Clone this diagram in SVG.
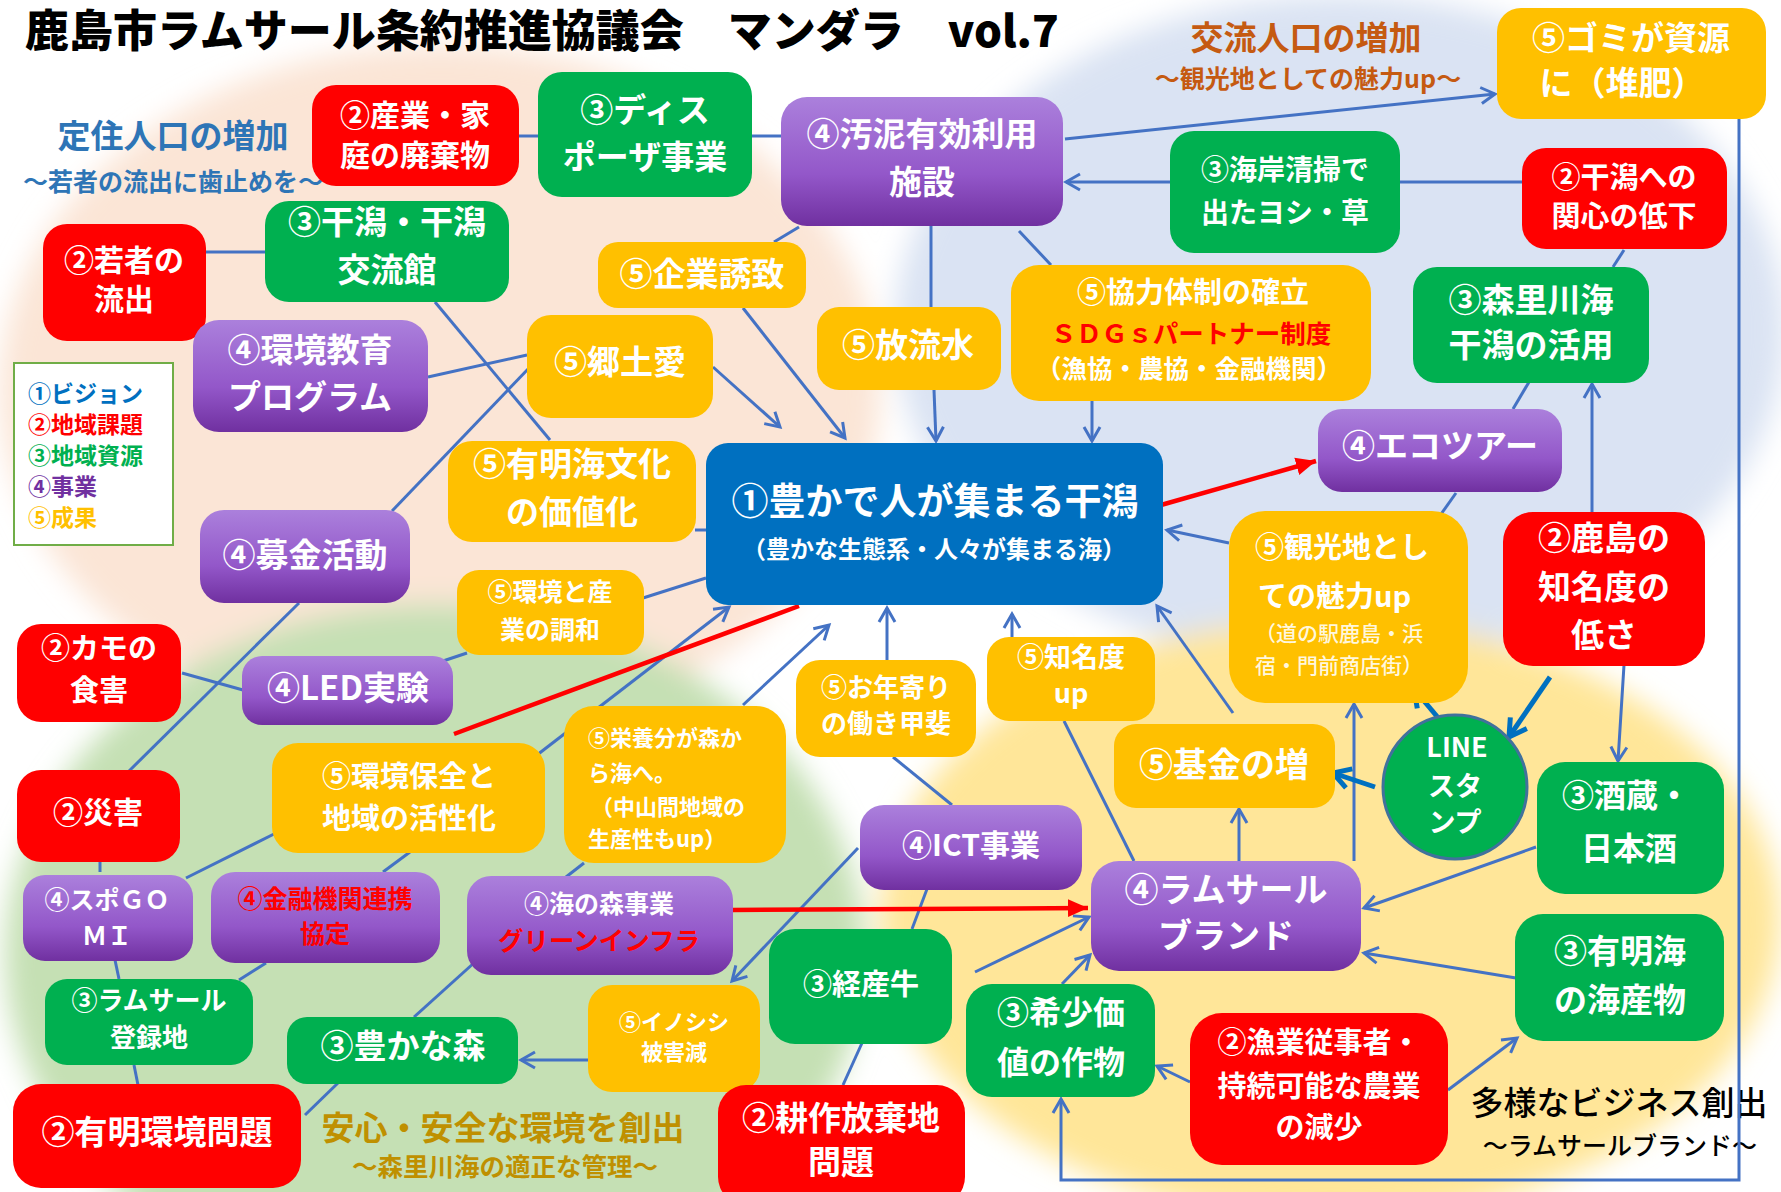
<svg xmlns="http://www.w3.org/2000/svg" width="1781" height="1192" viewBox="0 0 1781 1192">
<style>
.t{font-family:"Noto Sans CJK JP","Noto Sans",sans-serif;font-weight:700;fill:#fff;text-anchor:middle}
.lab{font-family:"Noto Sans CJK JP","Noto Sans",sans-serif;font-weight:700;text-anchor:middle}
.r{fill:#ff0000}.g{fill:#00b050}.y{fill:#ffc000}.p{fill:url(#pg)}.b{fill:#0070c0}
.rt{fill:#ff0000}
.c{stroke:#4472c4;stroke-width:3;fill:none}
.ca{stroke:#4472c4;stroke-width:3;fill:none;marker-end:url(#a)}
.cb{stroke:#0070c0;stroke-width:5;fill:none;marker-end:url(#ab)}
.cr{stroke:#ff0000;stroke-width:4.5;fill:none}
</style>
<defs>
<linearGradient id="pg" x1="0" y1="0" x2="0" y2="1">
<stop offset="0" stop-color="#ab80dc"/><stop offset="0.6" stop-color="#9357c9"/><stop offset="1" stop-color="#7030a0"/>
</linearGradient>
<filter id="blur" x="-30%" y="-30%" width="160%" height="160%"><feGaussianBlur stdDeviation="14"/></filter>
<marker id="a" markerUnits="userSpaceOnUse" viewBox="0 0 20 20" markerWidth="20" markerHeight="20" refX="17" refY="10" orient="auto"><path d="M3,2 L17,10 L3,18" fill="none" stroke="#4472c4" stroke-width="3"/></marker>
<marker id="ab" markerUnits="userSpaceOnUse" viewBox="0 0 26 26" markerWidth="26" markerHeight="26" refX="21" refY="13" orient="auto"><path d="M4,3 L21,13 L4,23" fill="none" stroke="#0070c0" stroke-width="5"/></marker>
<marker id="ar" markerUnits="userSpaceOnUse" viewBox="0 0 22 22" markerWidth="22" markerHeight="22" refX="20" refY="11" orient="auto"><path d="M0,2 L20,11 L0,20 z" fill="#ff0000"/></marker>
</defs>
<rect width="1781" height="1192" fill="#ffffff"/>
<g id="background" filter="url(#blur)">
<ellipse cx="440" cy="390" rx="440" ry="345" fill="#fbe5d6"/>
<ellipse cx="1340" cy="330" rx="445" ry="335" fill="#dae3f3"/>
<ellipse cx="435" cy="955" rx="430" ry="350" fill="#c5e0b4"/>
<ellipse cx="1330" cy="920" rx="450" ry="300" fill="#ffe699"/>
</g>
<text x="25" y="47" style="font-family:'Noto Sans CJK JP','Noto Sans',sans-serif;text-anchor:start;font-size:44px;font-weight:900;fill:#000">鹿島市ラムサール条約推進協議会　マンダラ　vol.7</text>
<g id="labels">
<text class="lab" x="173" y="148" style="font-size:33px;fill:#2e75b6">定住人口の増加</text>
<text class="lab" x="173" y="191" style="font-size:25px;fill:#2e75b6">～若者の流出に歯止めを～</text>
<text class="lab" x="1306" y="50" style="font-size:33px;fill:#c55a11">交流人口の増加</text>
<text class="lab" x="1308" y="88" style="font-size:25px;fill:#c55a11">～観光地としての魅力up～</text>
<text class="lab" x="503" y="1140" style="font-size:33px;fill:#bf9000">安心・安全な環境を創出</text>
<text class="lab" x="505" y="1176" style="font-size:25.5px;fill:#bf9000">～森里川海の適正な管理～</text>
<text class="lab" x="1619" y="1115" style="font-size:33px;font-weight:500;fill:#000">多様なビジネス創出</text>
<text class="lab" x="1620" y="1155" style="font-size:25px;font-weight:500;fill:#000">～ラムサールブランド～</text>
</g>
<g id="connectors">
<path class="c" d="M519,136 L538,136"/>
<path class="c" d="M752,136 L781,136"/>
<path class="c" d="M1522,182 L1399,182"/>
<path class="c" d="M1624,250 L1613,267"/>
<path class="c" d="M931,224 L931,307"/>
<path class="c" d="M1019,231 L1051,265"/>
<path class="c" d="M799,227 L774,242"/>
<path class="c" d="M435,302 L550,440"/>
<path class="c" d="M428,377 L527,355"/>
<path class="c" d="M204,252 L265,252"/>
<path class="c" d="M530,367 L392,511"/>
<path class="c" d="M299,603 L125,775"/>
<path class="c" d="M182,673 L243,690"/>
<path class="c" d="M440,662 L467,653"/>
<path class="c" d="M643,598 L706,578"/>
<path class="c" d="M695,530 L706,530"/>
<path class="c" d="M1456,493 L1439,517"/>
<path class="c" d="M1529,382 L1513,409"/>
<path class="c" d="M1134,861 L1064,721"/>
<path class="c" d="M893,757 L952,805"/>
<path class="c" d="M276,833 L186,878"/>
<path class="c" d="M100,861 L100,872"/>
<path class="c" d="M410,852 L383,872"/>
<path class="c" d="M115,960 L119,979"/>
<path class="c" d="M266,963 L239,980"/>
<path class="c" d="M134,1065 L138,1085"/>
<path class="c" d="M339,1082 L305,1115"/>
<path class="c" d="M475,962 L414,1017"/>
<path class="c" d="M584,863 L566,877"/>
<path class="c" d="M927,889 L912,929"/>
<path class="c" d="M862,1043 L843,1085"/>
<path class="ca" d="M1065,139 L1495,94"/>
<path class="ca" d="M1170,182 L1066,182"/>
<path class="ca" d="M1739,119 L1739,1180 L1061,1180 L1061,1099"/>
<path class="ca" d="M934,390 L936,441"/>
<path class="ca" d="M1092,401 L1092,441"/>
<path class="ca" d="M743,308 L845,438"/>
<path class="ca" d="M713,367 L780,427"/>
<path class="ca" d="M1592,513 L1592,384"/>
<path class="ca" d="M1229,543 L1167,530"/>
<path class="ca" d="M1624,665 L1618,761"/>
<path class="ca" d="M1354,861 L1354,704"/>
<path class="ca" d="M1239,861 L1239,809"/>
<path class="ca" d="M1233,713 L1157,606"/>
<path class="ca" d="M1012,638 L1012,614"/>
<path class="ca" d="M887,662 L887,608"/>
<path class="ca" d="M743,705 L829,625"/>
<path class="ca" d="M537,755 L729,607"/>
<path class="ca" d="M588,1060 L521,1060"/>
<path class="ca" d="M858,848 L732,981"/>
<path class="ca" d="M975,972 L1089,917"/>
<path class="ca" d="M1062,984 L1090,955"/>
<path class="ca" d="M1536,847 L1364,908"/>
<path class="ca" d="M1516,978 L1364,953"/>
<path class="ca" d="M1448,1090 L1517,1038"/>
<path class="ca" d="M1190,1082 L1157,1066"/>
<path class="cb" d="M1550,677 L1509,737"/>
<path class="cb" d="M1440,720 L1414,689"/>
<path class="cb" d="M1375,787 L1333,773"/>
<path class="cr" d="M454,734 L799,606"/>
<path class="cr" d="M1161,505 L1316,461" marker-end="url(#ar)"/>
<path class="cr" d="M732,910 L1088,908" marker-end="url(#ar)"/>
</g>
<g id="legend">
<rect x="14" y="363" width="159" height="182" fill="#ffffff" stroke="#70ad47" stroke-width="2"/>
<text x="28" y="402" style="font-family:'Noto Sans CJK JP',sans-serif;font-weight:700;text-anchor:start;font-size:23px;fill:#0070c0">①ビジョン</text>
<text x="28" y="433" style="font-family:'Noto Sans CJK JP',sans-serif;font-weight:700;text-anchor:start;font-size:23px;fill:#ff0000">②地域課題</text>
<text x="28" y="464" style="font-family:'Noto Sans CJK JP',sans-serif;font-weight:700;text-anchor:start;font-size:23px;fill:#00b050">③地域資源</text>
<text x="28" y="495" style="font-family:'Noto Sans CJK JP',sans-serif;font-weight:700;text-anchor:start;font-size:23px;fill:#7030a0">④事業</text>
<text x="28" y="526" style="font-family:'Noto Sans CJK JP',sans-serif;font-weight:700;text-anchor:start;font-size:23px;fill:#ffc000">⑤成果</text>
</g>
<g id="n-sangyo"><rect class="r" x="312" y="85" width="207" height="101" rx="24"/><text class="t" style="font-size:30px"><tspan x="415" y="126">②産業・家</tspan><tspan x="415" y="166">庭の廃棄物</tspan></text></g>
<g id="n-disposer"><rect class="g" x="538" y="72" width="214" height="125" rx="24"/><text class="t" style="font-size:33px"><tspan x="645" y="122">③ディス</tspan><tspan x="645" y="169">ポーザ事業</tspan></text></g>
<g id="n-odei"><rect class="p" x="781" y="97" width="282" height="129" rx="26"/><text class="t" style="font-size:33px"><tspan x="922" y="146">④汚泥有効利用</tspan><tspan x="922" y="194">施設</tspan></text></g>
<g id="n-gomi"><rect class="y" x="1497" y="8" width="269" height="111" rx="24"/><text class="t" style="font-size:33px"><tspan x="1631" y="50">⑤ゴミが資源</tspan><tspan x="1622" y="95">に（堆肥）</tspan></text></g>
<g id="n-kaigan"><rect class="g" x="1170" y="131" width="230" height="122" rx="24"/><text class="t" style="font-size:28px"><tspan x="1285" y="180">③海岸清掃で</tspan><tspan x="1285" y="223">出たヨシ・草</tspan></text></g>
<g id="n-kanshin"><rect class="r" x="1522" y="148" width="205" height="101" rx="24"/><text class="t" style="font-size:29px"><tspan x="1624" y="188">②干潟への</tspan><tspan x="1624" y="227">関心の低下</tspan></text></g>
<g id="n-wakamono"><rect class="r" x="43" y="224" width="163" height="117" rx="24"/><text class="t" style="font-size:30px"><tspan x="124" y="271">②若者の</tspan><tspan x="124" y="310">流出</tspan></text></g>
<g id="n-koryukan"><rect class="g" x="265" y="201" width="244" height="101" rx="24"/><text class="t" style="font-size:33px"><tspan x="387" y="234">③干潟・干潟</tspan><tspan x="387" y="282">交流館</tspan></text></g>
<g id="n-kigyo"><rect class="y" x="598" y="242" width="208" height="66" rx="20"/><text class="t" style="font-size:33px" x="702" y="286">⑤企業誘致</text></g>
<g id="n-kyoryoku"><rect class="y" x="1011" y="265" width="360" height="136" rx="28"/><text class="t" style="font-size:29px" x="1193" y="303">⑤協力体制の確立</text><text class="t rt" style="font-size:25.5px" x="1191" y="343">ＳＤＧｓパートナー制度</text><text class="t" style="font-size:25.5px" x="1189" y="378">（漁協・農協・金融機関）</text></g>
<g id="n-morisato"><rect class="g" x="1413" y="267" width="236" height="116" rx="24"/><text class="t" style="font-size:33px"><tspan x="1531" y="312">③森里川海</tspan><tspan x="1531" y="357">干潟の活用</tspan></text></g>
<g id="n-kyoiku"><rect class="p" x="193" y="320" width="235" height="112" rx="26"/><text class="t" style="font-size:33px"><tspan x="310" y="362">④環境教育</tspan><tspan x="310" y="409">プログラム</tspan></text></g>
<g id="n-kyodo"><rect class="y" x="527" y="315" width="186" height="103" rx="24"/><text class="t" style="font-size:33px" x="620" y="374">⑤郷土愛</text></g>
<g id="n-horyu"><rect class="y" x="817" y="307" width="184" height="83" rx="22"/><text class="t" style="font-size:33px" x="908" y="357">⑤放流水</text></g>
<g id="n-ecotour"><rect class="p" x="1318" y="409" width="244" height="83" rx="24"/><text class="t" style="font-size:33px" x="1440" y="458">④エコツアー</text></g>
<g id="n-ariakebunka"><rect class="y" x="448" y="441" width="248" height="101" rx="24"/><text class="t" style="font-size:33px"><tspan x="572" y="476">⑤有明海文化</tspan><tspan x="572" y="524">の価値化</tspan></text></g>
<g id="n-vision"><rect class="b" x="706" y="443" width="457" height="162" rx="22"/><text class="t" style="font-size:37px" x="935" y="515">①豊かで人が集まる干潟</text><text class="t" style="font-size:24px" x="934" y="558">（豊かな生態系・人々が集まる海）</text></g>
<g id="n-kanko"><rect class="y" x="1229" y="511" width="239" height="192" rx="36"/><text class="t" style="font-size:29px;text-anchor:start"><tspan x="1255" y="558">⑤観光地とし</tspan><tspan x="1258" y="607">ての魅力up</tspan></text><text class="t" style="font-size:21px;font-weight:500;fill:#fff7dd;text-anchor:start"><tspan x="1255" y="641">（道の駅鹿島・浜</tspan><tspan x="1255" y="673">宿・門前商店街）</tspan></text></g>
<g id="n-chimeido-low"><rect class="r" x="1503" y="512" width="202" height="154" rx="30"/><text class="t" style="font-size:33px"><tspan x="1604" y="550">②鹿島の</tspan><tspan x="1604" y="599">知名度の</tspan><tspan x="1604" y="647">低さ</tspan></text></g>
<g id="n-bokin"><rect class="p" x="200" y="510" width="210" height="93" rx="24"/><text class="t" style="font-size:33px" x="305" y="567">④募金活動</text></g>
<g id="n-chowa"><rect class="y" x="457" y="570" width="187" height="85" rx="22"/><text class="t" style="font-size:25px"><tspan x="550" y="601">⑤環境と産</tspan><tspan x="550" y="639">業の調和</tspan></text></g>
<g id="n-kamo"><rect class="r" x="17" y="624" width="164" height="98" rx="24"/><text class="t" style="font-size:29px"><tspan x="99" y="659">②カモの</tspan><tspan x="99" y="701">食害</tspan></text></g>
<g id="n-led"><rect class="p" x="242" y="656" width="211" height="69" rx="20"/><text class="t" style="font-size:33px" x="348" y="700">④LED実験</text></g>
<g id="n-chimeido-up"><rect class="y" x="987" y="637" width="168" height="84" rx="22"/><text class="t" style="font-size:27px"><tspan x="1071" y="667">⑤知名度</tspan><tspan x="1071" y="703">up</tspan></text></g>
<g id="n-otoshiyori"><rect class="y" x="796" y="660" width="180" height="97" rx="24"/><text class="t" style="font-size:26px"><tspan x="886" y="697">⑤お年寄り</tspan><tspan x="886" y="733">の働き甲斐</tspan></text></g>
<g id="n-kikin"><rect class="y" x="1114" y="724" width="221" height="84" rx="22"/><text class="t" style="font-size:34px" x="1224" y="777">⑤基金の増</text></g>
<g id="n-line"><circle cx="1455" cy="787" r="72" fill="#00b050" stroke="#41719c" stroke-width="3"/><text class="t" style="font-size:27px"><tspan x="1457" y="757">LINE</tspan><tspan x="1455" y="796">スタ</tspan><tspan x="1455" y="832">ンプ</tspan></text></g>
<g id="n-sakagura"><rect class="g" x="1537" y="762" width="187" height="132" rx="28"/><text class="t" style="font-size:32px"><tspan x="1626" y="807">③酒蔵・</tspan><tspan x="1629" y="860">日本酒</tspan></text></g>
<g id="n-eiyo"><rect class="y" x="564" y="706" width="222" height="157" rx="30"/><text class="t" style="font-size:22px;text-anchor:start"><tspan x="588" y="746">⑤栄養分が森か</tspan><tspan x="588" y="781">ら海へ。</tspan><tspan x="591" y="815">（中山間地域の</tspan><tspan x="588" y="847">生産性もup）</tspan></text></g>
<g id="n-hozen"><rect class="y" x="272" y="743" width="273" height="110" rx="26"/><text class="t" style="font-size:29px"><tspan x="409" y="787">⑤環境保全と</tspan><tspan x="409" y="829">地域の活性化</tspan></text></g>
<g id="n-saigai"><rect class="r" x="17" y="770" width="163" height="92" rx="24"/><text class="t" style="font-size:30px" x="98" y="823">②災害</text></g>
<g id="n-ict"><rect class="p" x="860" y="805" width="222" height="85" rx="24"/><text class="t" style="font-size:30px" x="971" y="856">④ICT事業</text></g>
<g id="n-ramsar-brand"><rect class="p" x="1091" y="861" width="270" height="110" rx="28"/><text class="t" style="font-size:34px"><tspan x="1226" y="902">④ラムサール</tspan><tspan x="1226" y="948">ブランド</tspan></text></g>
<g id="n-supogomi"><rect class="p" x="23" y="875" width="170" height="86" rx="22"/><text class="t" style="font-size:25px"><tspan x="107" y="909">④スポＧＯ</tspan><tspan x="107" y="945">ＭＩ</tspan></text></g>
<g id="n-kinyu"><rect class="p" x="211" y="872" width="229" height="91" rx="24"/><text class="t rt" style="font-size:25px"><tspan x="325" y="908">④金融機関連携</tspan><tspan x="325" y="943">協定</tspan></text></g>
<g id="n-uminomori"><rect class="p" x="467" y="876" width="266" height="99" rx="24"/><text class="t" style="font-size:25px" x="599" y="913">④海の森事業</text><text class="t rt" style="font-size:25.5px" x="599" y="950">グリーンインフラ</text></g>
<g id="n-keisangyu"><rect class="g" x="769" y="929" width="183" height="115" rx="26"/><text class="t" style="font-size:29px" x="861" y="995">③経産牛</text></g>
<g id="n-kaisanbutsu"><rect class="g" x="1515" y="914" width="209" height="127" rx="28"/><text class="t" style="font-size:33px"><tspan x="1620" y="963">③有明海</tspan><tspan x="1620" y="1012">の海産物</tspan></text></g>
<g id="n-ramsar-toroku"><rect class="g" x="45" y="979" width="208" height="86" rx="22"/><text class="t" style="font-size:26px"><tspan x="149" y="1010">③ラムサール</tspan><tspan x="149" y="1047">登録地</tspan></text></g>
<g id="n-kisho"><rect class="g" x="966" y="984" width="189" height="113" rx="26"/><text class="t" style="font-size:32px"><tspan x="1061" y="1024">③希少価</tspan><tspan x="1061" y="1074">値の作物</tspan></text></g>
<g id="n-inoshishi"><rect class="y" x="588" y="985" width="172" height="107" rx="24"/><text class="t" style="font-size:22px"><tspan x="674" y="1030">⑤イノシシ</tspan><tspan x="674" y="1060">被害減</tspan></text></g>
<g id="n-yutakanamori"><rect class="g" x="287" y="1017" width="231" height="67" rx="20"/><text class="t" style="font-size:33px" x="403" y="1058">③豊かな森</text></g>
<g id="n-gyogyo"><rect class="r" x="1190" y="1013" width="258" height="152" rx="32"/><text class="t" style="font-size:29px"><tspan x="1319" y="1053">②漁業従事者・</tspan><tspan x="1319" y="1097">持続可能な農業</tspan><tspan x="1319" y="1138">の減少</tspan></text></g>
<g id="n-ariake-kankyo"><rect class="r" x="13" y="1084" width="288" height="104" rx="28"/><text class="t" style="font-size:33px" x="157" y="1144">②有明環境問題</text></g>
<g id="n-kosaku"><rect class="r" x="718" y="1085" width="247" height="120" rx="28"/><text class="t" style="font-size:33px"><tspan x="841" y="1130">②耕作放棄地</tspan><tspan x="841" y="1174">問題</tspan></text></g>
</svg>
